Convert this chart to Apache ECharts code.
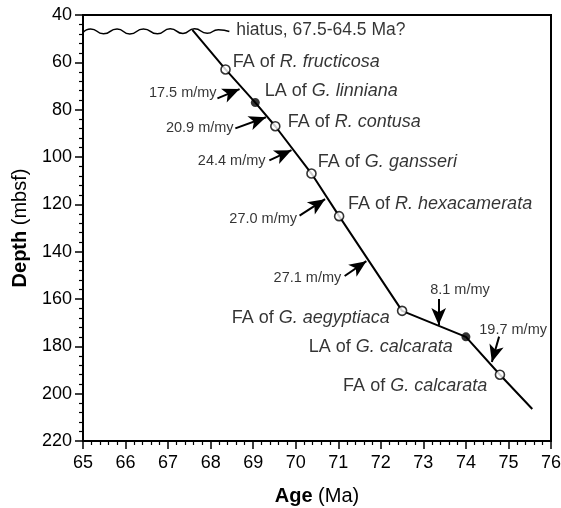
<!DOCTYPE html>
<html><head><meta charset="utf-8">
<script src="https://cdn.jsdelivr.net/npm/echarts@6/dist/echarts.min.js"></script>
<style>html,body{margin:0;padding:0;background:#fff}#c{width:561px;height:508px}</style>
</head><body><div id="c"></div>
<script>
// Age–depth tie points [age Ma, depth mbsf]
const ageDepthLine = [[67.57,46.3],[68.35,63],[69.05,77],[69.52,87],[70.37,107],[71.02,125],[72.5,165],[74.0,176],[74.8,192],[75.56,206.5]];
const openDatums = [[68.35,63],[69.52,87],[70.37,107],[71.02,125],[72.5,165],[74.8,192]];
const filledDatums = [[69.05,77],[74.0,176]];
// Hiatus wavy line
const hiatusWave = [[65.0,47.4],[65.18,45.9],[65.48,47.9],[65.8,45.9],[66.1,48.0],[66.42,45.9],[66.75,47.9],[67.05,45.8],[67.35,47.8],[67.62,45.8],[67.92,47.7],[68.18,46.2],[68.44,47.0]];
// Datum labels: [age, depth, text, align]
const datumLabels = [
  [68.52,59.8,'FA of {i|R. fructicosa}','left'],
  [69.27,72.0,'LA of {i|G. linniana}','left'],
  [69.81,85.2,'FA of {i|R. contusa}','left'],
  [70.52,102.3,'FA of {i|G. gansseri}','left'],
  [71.23,120.0,'FA of {i|R. hexacamerata}','left'],
  [72.21,168.0,'FA of {i|G. aegyptiaca}','right'],
  [73.69,180.4,'LA of {i|G. calcarata}','right'],
  [74.50,196.7,'FA of {i|G. calcarata}','right']
];
const hiatusLabel = [68.6,46.2,'hiatus, 67.5-64.5 Ma?'];
// Sedimentation-rate labels: [age, depth, text, align]
const rateLabels = [
  [68.14,73.0,'17.5 m/my','right'],
  [68.54,87.8,'20.9 m/my','right'],
  [69.29,101.9,'24.4 m/my','right'],
  [70.03,126.2,'27.0 m/my','right'],
  [71.07,151.2,'27.1 m/my','right'],
  [73.86,156.4,'8.1 m/my','center'],
  [75.11,173.0,'19.7 m/my','center']
];
// arrows: [tailAge, tailDepth, tipAge, tipDepth]
const rateArrows = [
  [68.16,75.2,68.68,71.3],
  [68.58,87.9,69.30,83.2],
  [69.38,101.4,69.90,97.1],
  [70.09,124.8,70.69,117.8],
  [71.15,150.3,71.66,144.0],
  [73.36,160.0,73.36,171.0],
  [74.78,175.9,74.61,186.6]
];
const xTicks = {min:65,max:76,interval:1};
const yTicks = {min:40,max:220,interval:20};

const FONT = '"Liberation Sans", Arial, Helvetica, sans-serif';
const chart = echarts.init(document.getElementById('c'), null, {renderer:'canvas'});

function labelSeries(rows, size, align){
  const pos = align==='left' ? 'right' : (align==='right' ? 'left' : 'inside');
  return {
    type:'scatter', symbolSize:0, silent:true, z:5,
    data: rows.filter(r=>r[3]===align).map(r=>({value:[r[0],r[1]], name:r[2]})),
    label:{show:true, position:pos, distance:0, color:'#000', fontFamily:FONT, fontSize:size,
      formatter:p=>p.name, rich:{i:{fontStyle:'italic', fontSize:size, fontFamily:FONT, color:'#000'}}}
  };
}

chart.setOption({
  animation:false,
  grid:{left:83, right:10, top:15, bottom:67, show:true, borderColor:'#000', borderWidth:2,
    containLabel:false, outerBoundsMode:'none'},
  xAxis:{type:'value', min:xTicks.min, max:xTicks.max, interval:xTicks.interval,
    name:'{b|Age} (Ma)', nameLocation:'middle', nameGap:45,
    nameTextStyle:{fontSize:20, fontFamily:FONT, color:'#000', rich:{b:{fontWeight:'bold', fontSize:20, fontFamily:FONT, color:'#000'}}},
    axisLine:{lineStyle:{color:'#000', width:2}},
    axisTick:{length:8, lineStyle:{color:'#000', width:1.5}},
    minorTick:{show:true, splitNumber:5, length:4, lineStyle:{color:'#000', width:1.2}},
    splitLine:{show:false},
    axisLabel:{fontSize:18, fontFamily:FONT, color:'#000', margin:13}
  },
  yAxis:{type:'value', inverse:true, min:yTicks.min, max:yTicks.max, interval:yTicks.interval,
    name:'{b|Depth} (mbsf)', nameLocation:'middle', nameGap:53,
    nameTextStyle:{fontSize:20, fontFamily:FONT, color:'#000', rich:{b:{fontWeight:'bold', fontSize:20, fontFamily:FONT, color:'#000'}}},
    axisLine:{lineStyle:{color:'#000', width:2}},
    axisTick:{length:8, lineStyle:{color:'#000', width:1.5}},
    minorTick:{show:true, splitNumber:5, length:4, lineStyle:{color:'#000', width:1.2}},
    splitLine:{show:false},
    axisLabel:{fontSize:18, fontFamily:FONT, color:'#000', margin:11}
  },
  series:[
    {type:'line', data:hiatusWave, smooth:0.6, symbol:'none', lineStyle:{color:'#000', width:1.5}, silent:true},
    {type:'line', data:ageDepthLine, symbol:'none', lineStyle:{color:'#000', width:2}, silent:true,
      markLine:{silent:true, symbol:['none','arrow'], symbolSize:[11,17], label:{show:false},
        lineStyle:{color:'#000', width:2, type:'solid'}, emphasis:{disabled:true},
        data: rateArrows.map(a=>[{coord:[a[0],a[1]]},{coord:[a[2],a[3]]}])}
    },
    {type:'scatter', data:openDatums, symbol:'circle', symbolSize:9, z:4,
      itemStyle:{color:'#fff', borderColor:'#000', borderWidth:1.6}, silent:true},
    {type:'scatter', data:filledDatums, symbol:'circle', symbolSize:9, z:4,
      itemStyle:{color:'#000'}, silent:true},
    labelSeries(datumLabels,18,'left'),
    labelSeries(datumLabels,18,'right'),
    labelSeries(rateLabels,14.5,'right'),
    labelSeries(rateLabels,14.5,'center'),
    labelSeries([[hiatusLabel[0],hiatusLabel[1],hiatusLabel[2],'left']],17.5,'left')
  ]
});
</script></body></html>
